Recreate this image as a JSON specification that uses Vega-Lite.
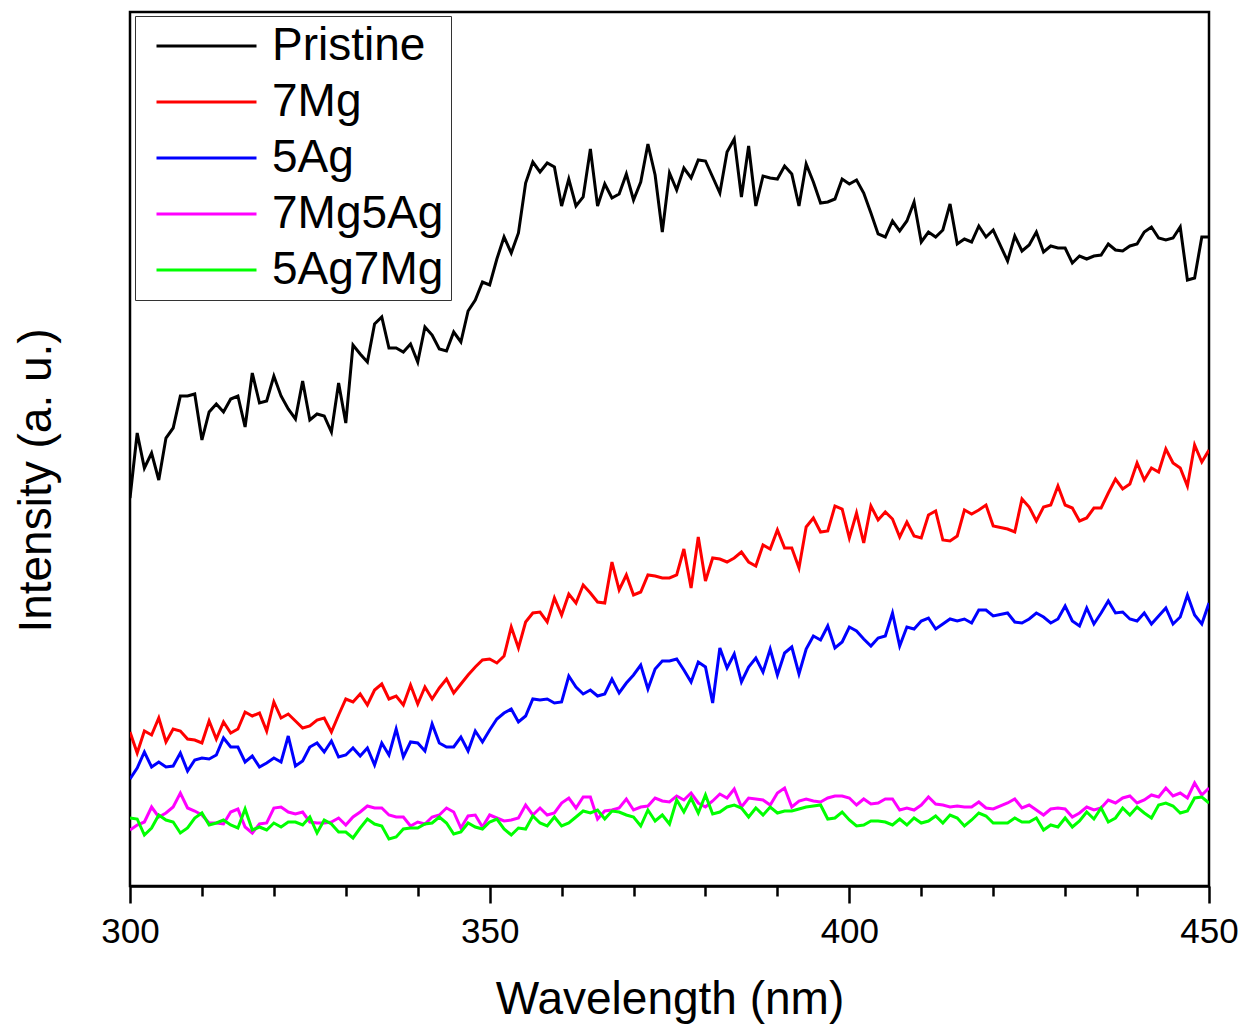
{
"$schema":"https://vega.github.io/schema/vega-lite/v6.json",
"width":1079,"height":874,
"autosize":"none",
"padding":{"left":130,"top":12,"right":33,"bottom":142},
"background":"white",
"config":{"font":"Liberation Sans","view":{"stroke":"black","strokeWidth":2.5}},
"data":{"values":[
{"w":300,"s":"Pristine","v":388},{"w":301,"s":"Pristine","v":453},{"w":302,"s":"Pristine","v":418},{"w":303,"s":"Pristine","v":433},{"w":304,"s":"Pristine","v":406},{"w":305,"s":"Pristine","v":448},{"w":306,"s":"Pristine","v":458},{"w":307,"s":"Pristine","v":490},{"w":308,"s":"Pristine","v":490},{"w":309,"s":"Pristine","v":492},{"w":310,"s":"Pristine","v":446},{"w":311,"s":"Pristine","v":474},{"w":312,"s":"Pristine","v":482},{"w":313,"s":"Pristine","v":474},{"w":314,"s":"Pristine","v":487},{"w":315,"s":"Pristine","v":490},{"w":316,"s":"Pristine","v":459},{"w":317,"s":"Pristine","v":513},{"w":318,"s":"Pristine","v":483},{"w":319,"s":"Pristine","v":485},{"w":320,"s":"Pristine","v":510},{"w":321,"s":"Pristine","v":490},{"w":322,"s":"Pristine","v":477},{"w":323,"s":"Pristine","v":467},{"w":324,"s":"Pristine","v":505},{"w":325,"s":"Pristine","v":466},{"w":326,"s":"Pristine","v":472},{"w":327,"s":"Pristine","v":470},{"w":328,"s":"Pristine","v":454},{"w":329,"s":"Pristine","v":503},{"w":330,"s":"Pristine","v":463},{"w":331,"s":"Pristine","v":541},{"w":332,"s":"Pristine","v":532},{"w":333,"s":"Pristine","v":524},{"w":334,"s":"Pristine","v":562},{"w":335,"s":"Pristine","v":569},{"w":336,"s":"Pristine","v":538},{"w":337,"s":"Pristine","v":538},{"w":338,"s":"Pristine","v":534},{"w":339,"s":"Pristine","v":542},{"w":340,"s":"Pristine","v":524},{"w":341,"s":"Pristine","v":559},{"w":342,"s":"Pristine","v":551},{"w":343,"s":"Pristine","v":537},{"w":344,"s":"Pristine","v":535},{"w":345,"s":"Pristine","v":554},{"w":346,"s":"Pristine","v":544},{"w":347,"s":"Pristine","v":575},{"w":348,"s":"Pristine","v":586},{"w":349,"s":"Pristine","v":604},{"w":350,"s":"Pristine","v":601},{"w":351,"s":"Pristine","v":627},{"w":352,"s":"Pristine","v":649},{"w":353,"s":"Pristine","v":633},{"w":354,"s":"Pristine","v":653},{"w":355,"s":"Pristine","v":703},{"w":356,"s":"Pristine","v":724},{"w":357,"s":"Pristine","v":714},{"w":358,"s":"Pristine","v":723},{"w":359,"s":"Pristine","v":719},{"w":360,"s":"Pristine","v":680},{"w":361,"s":"Pristine","v":707},{"w":362,"s":"Pristine","v":680},{"w":363,"s":"Pristine","v":689},{"w":364,"s":"Pristine","v":737},{"w":365,"s":"Pristine","v":680},{"w":366,"s":"Pristine","v":702},{"w":367,"s":"Pristine","v":688},{"w":368,"s":"Pristine","v":692},{"w":369,"s":"Pristine","v":712},{"w":370,"s":"Pristine","v":686},{"w":371,"s":"Pristine","v":704},{"w":372,"s":"Pristine","v":742},{"w":373,"s":"Pristine","v":711},{"w":374,"s":"Pristine","v":654},{"w":375,"s":"Pristine","v":713},{"w":376,"s":"Pristine","v":696},{"w":377,"s":"Pristine","v":718},{"w":378,"s":"Pristine","v":708},{"w":379,"s":"Pristine","v":726},{"w":380,"s":"Pristine","v":725},{"w":381,"s":"Pristine","v":709},{"w":382,"s":"Pristine","v":693},{"w":383,"s":"Pristine","v":734},{"w":384,"s":"Pristine","v":747},{"w":385,"s":"Pristine","v":689},{"w":386,"s":"Pristine","v":740},{"w":387,"s":"Pristine","v":680},{"w":388,"s":"Pristine","v":710},{"w":389,"s":"Pristine","v":708},{"w":390,"s":"Pristine","v":707},{"w":391,"s":"Pristine","v":720},{"w":392,"s":"Pristine","v":712},{"w":393,"s":"Pristine","v":680},{"w":394,"s":"Pristine","v":722},{"w":395,"s":"Pristine","v":704},{"w":396,"s":"Pristine","v":683},{"w":397,"s":"Pristine","v":684},{"w":398,"s":"Pristine","v":687},{"w":399,"s":"Pristine","v":707},{"w":400,"s":"Pristine","v":702},{"w":401,"s":"Pristine","v":706},{"w":402,"s":"Pristine","v":693},{"w":403,"s":"Pristine","v":673},{"w":404,"s":"Pristine","v":652},{"w":405,"s":"Pristine","v":649},{"w":406,"s":"Pristine","v":665},{"w":407,"s":"Pristine","v":655},{"w":408,"s":"Pristine","v":665},{"w":409,"s":"Pristine","v":684},{"w":410,"s":"Pristine","v":644},{"w":411,"s":"Pristine","v":654},{"w":412,"s":"Pristine","v":649},{"w":413,"s":"Pristine","v":656},{"w":414,"s":"Pristine","v":682},{"w":415,"s":"Pristine","v":642},{"w":416,"s":"Pristine","v":647},{"w":417,"s":"Pristine","v":644},{"w":418,"s":"Pristine","v":660},{"w":419,"s":"Pristine","v":649},{"w":420,"s":"Pristine","v":656},{"w":422,"s":"Pristine","v":625},{"w":423,"s":"Pristine","v":650},{"w":424,"s":"Pristine","v":635},{"w":425,"s":"Pristine","v":641},{"w":426,"s":"Pristine","v":654},{"w":427,"s":"Pristine","v":634},{"w":428,"s":"Pristine","v":640},{"w":429,"s":"Pristine","v":638},{"w":430,"s":"Pristine","v":638},{"w":431,"s":"Pristine","v":623},{"w":432,"s":"Pristine","v":630},{"w":433,"s":"Pristine","v":627},{"w":434,"s":"Pristine","v":630},{"w":435,"s":"Pristine","v":631},{"w":436,"s":"Pristine","v":642},{"w":437,"s":"Pristine","v":636},{"w":438,"s":"Pristine","v":635},{"w":439,"s":"Pristine","v":640},{"w":440,"s":"Pristine","v":642},{"w":441,"s":"Pristine","v":654},{"w":442,"s":"Pristine","v":659},{"w":443,"s":"Pristine","v":648},{"w":444,"s":"Pristine","v":646},{"w":445,"s":"Pristine","v":648},{"w":446,"s":"Pristine","v":659},{"w":447,"s":"Pristine","v":606},{"w":448,"s":"Pristine","v":608},{"w":449,"s":"Pristine","v":649},{"w":450,"s":"Pristine","v":649},
{"w":300,"s":"7Mg","v":154},{"w":301,"s":"7Mg","v":133},{"w":302,"s":"7Mg","v":155},{"w":303,"s":"7Mg","v":151},{"w":304,"s":"7Mg","v":168},{"w":305,"s":"7Mg","v":144},{"w":306,"s":"7Mg","v":157},{"w":307,"s":"7Mg","v":155},{"w":308,"s":"7Mg","v":147},{"w":309,"s":"7Mg","v":146},{"w":310,"s":"7Mg","v":143},{"w":311,"s":"7Mg","v":165},{"w":312,"s":"7Mg","v":147},{"w":313,"s":"7Mg","v":164},{"w":314,"s":"7Mg","v":153},{"w":315,"s":"7Mg","v":157},{"w":316,"s":"7Mg","v":174},{"w":317,"s":"7Mg","v":170},{"w":318,"s":"7Mg","v":173},{"w":319,"s":"7Mg","v":155},{"w":320,"s":"7Mg","v":184},{"w":321,"s":"7Mg","v":168},{"w":322,"s":"7Mg","v":172},{"w":323,"s":"7Mg","v":165},{"w":324,"s":"7Mg","v":158},{"w":325,"s":"7Mg","v":160},{"w":326,"s":"7Mg","v":166},{"w":327,"s":"7Mg","v":168},{"w":328,"s":"7Mg","v":154},{"w":329,"s":"7Mg","v":171},{"w":330,"s":"7Mg","v":187},{"w":331,"s":"7Mg","v":184},{"w":332,"s":"7Mg","v":192},{"w":333,"s":"7Mg","v":181},{"w":334,"s":"7Mg","v":196},{"w":335,"s":"7Mg","v":202},{"w":336,"s":"7Mg","v":187},{"w":337,"s":"7Mg","v":190},{"w":338,"s":"7Mg","v":181},{"w":339,"s":"7Mg","v":201},{"w":340,"s":"7Mg","v":182},{"w":341,"s":"7Mg","v":199},{"w":342,"s":"7Mg","v":187},{"w":343,"s":"7Mg","v":198},{"w":344,"s":"7Mg","v":207},{"w":345,"s":"7Mg","v":193},{"w":346,"s":"7Mg","v":202},{"w":347,"s":"7Mg","v":211},{"w":348,"s":"7Mg","v":219},{"w":349,"s":"7Mg","v":226},{"w":350,"s":"7Mg","v":227},{"w":351,"s":"7Mg","v":223},{"w":352,"s":"7Mg","v":230},{"w":353,"s":"7Mg","v":259},{"w":354,"s":"7Mg","v":238},{"w":355,"s":"7Mg","v":264},{"w":356,"s":"7Mg","v":273},{"w":357,"s":"7Mg","v":274},{"w":358,"s":"7Mg","v":264},{"w":359,"s":"7Mg","v":288},{"w":360,"s":"7Mg","v":271},{"w":361,"s":"7Mg","v":292},{"w":362,"s":"7Mg","v":283},{"w":363,"s":"7Mg","v":301},{"w":364,"s":"7Mg","v":293},{"w":365,"s":"7Mg","v":284},{"w":366,"s":"7Mg","v":283},{"w":367,"s":"7Mg","v":324},{"w":368,"s":"7Mg","v":296},{"w":369,"s":"7Mg","v":311},{"w":370,"s":"7Mg","v":291},{"w":371,"s":"7Mg","v":294},{"w":372,"s":"7Mg","v":311},{"w":373,"s":"7Mg","v":310},{"w":374,"s":"7Mg","v":308},{"w":375,"s":"7Mg","v":308},{"w":376,"s":"7Mg","v":311},{"w":377,"s":"7Mg","v":337},{"w":378,"s":"7Mg","v":298},{"w":379,"s":"7Mg","v":349},{"w":380,"s":"7Mg","v":305},{"w":381,"s":"7Mg","v":328},{"w":382,"s":"7Mg","v":327},{"w":383,"s":"7Mg","v":324},{"w":384,"s":"7Mg","v":328},{"w":385,"s":"7Mg","v":334},{"w":386,"s":"7Mg","v":324},{"w":387,"s":"7Mg","v":320},{"w":388,"s":"7Mg","v":341},{"w":389,"s":"7Mg","v":337},{"w":390,"s":"7Mg","v":356},{"w":391,"s":"7Mg","v":338},{"w":392,"s":"7Mg","v":338},{"w":393,"s":"7Mg","v":318},{"w":394,"s":"7Mg","v":359},{"w":395,"s":"7Mg","v":368},{"w":396,"s":"7Mg","v":354},{"w":397,"s":"7Mg","v":355},{"w":398,"s":"7Mg","v":380},{"w":399,"s":"7Mg","v":377},{"w":400,"s":"7Mg","v":348},{"w":401,"s":"7Mg","v":373},{"w":402,"s":"7Mg","v":343},{"w":403,"s":"7Mg","v":380},{"w":404,"s":"7Mg","v":366},{"w":405,"s":"7Mg","v":374},{"w":406,"s":"7Mg","v":367},{"w":407,"s":"7Mg","v":349},{"w":408,"s":"7Mg","v":364},{"w":409,"s":"7Mg","v":350},{"w":410,"s":"7Mg","v":348},{"w":411,"s":"7Mg","v":371},{"w":412,"s":"7Mg","v":375},{"w":413,"s":"7Mg","v":346},{"w":414,"s":"7Mg","v":345},{"w":415,"s":"7Mg","v":350},{"w":416,"s":"7Mg","v":376},{"w":417,"s":"7Mg","v":372},{"w":418,"s":"7Mg","v":376},{"w":419,"s":"7Mg","v":381},{"w":420,"s":"7Mg","v":360},{"w":422,"s":"7Mg","v":357},{"w":423,"s":"7Mg","v":354},{"w":424,"s":"7Mg","v":387},{"w":425,"s":"7Mg","v":379},{"w":426,"s":"7Mg","v":365},{"w":427,"s":"7Mg","v":379},{"w":428,"s":"7Mg","v":381},{"w":429,"s":"7Mg","v":400},{"w":430,"s":"7Mg","v":381},{"w":431,"s":"7Mg","v":378},{"w":432,"s":"7Mg","v":365},{"w":433,"s":"7Mg","v":368},{"w":434,"s":"7Mg","v":378},{"w":435,"s":"7Mg","v":378},{"w":436,"s":"7Mg","v":393},{"w":437,"s":"7Mg","v":407},{"w":438,"s":"7Mg","v":397},{"w":439,"s":"7Mg","v":402},{"w":440,"s":"7Mg","v":423},{"w":441,"s":"7Mg","v":406},{"w":442,"s":"7Mg","v":418},{"w":443,"s":"7Mg","v":414},{"w":444,"s":"7Mg","v":437},{"w":445,"s":"7Mg","v":423},{"w":446,"s":"7Mg","v":418},{"w":447,"s":"7Mg","v":400},{"w":448,"s":"7Mg","v":441},{"w":449,"s":"7Mg","v":424},{"w":450,"s":"7Mg","v":436},
{"w":300,"s":"5Ag","v":107},{"w":301,"s":"5Ag","v":118},{"w":302,"s":"5Ag","v":134},{"w":303,"s":"5Ag","v":119},{"w":304,"s":"5Ag","v":124},{"w":305,"s":"5Ag","v":119},{"w":306,"s":"5Ag","v":120},{"w":307,"s":"5Ag","v":133},{"w":308,"s":"5Ag","v":115},{"w":309,"s":"5Ag","v":126},{"w":310,"s":"5Ag","v":128},{"w":311,"s":"5Ag","v":127},{"w":312,"s":"5Ag","v":131},{"w":313,"s":"5Ag","v":148},{"w":314,"s":"5Ag","v":139},{"w":315,"s":"5Ag","v":139},{"w":316,"s":"5Ag","v":124},{"w":317,"s":"5Ag","v":130},{"w":318,"s":"5Ag","v":119},{"w":319,"s":"5Ag","v":123},{"w":320,"s":"5Ag","v":128},{"w":321,"s":"5Ag","v":124},{"w":322,"s":"5Ag","v":150},{"w":323,"s":"5Ag","v":120},{"w":324,"s":"5Ag","v":125},{"w":325,"s":"5Ag","v":139},{"w":326,"s":"5Ag","v":143},{"w":327,"s":"5Ag","v":134},{"w":328,"s":"5Ag","v":145},{"w":329,"s":"5Ag","v":129},{"w":330,"s":"5Ag","v":131},{"w":331,"s":"5Ag","v":138},{"w":332,"s":"5Ag","v":130},{"w":333,"s":"5Ag","v":138},{"w":334,"s":"5Ag","v":121},{"w":335,"s":"5Ag","v":143},{"w":336,"s":"5Ag","v":131},{"w":337,"s":"5Ag","v":157},{"w":338,"s":"5Ag","v":129},{"w":339,"s":"5Ag","v":144},{"w":340,"s":"5Ag","v":143},{"w":341,"s":"5Ag","v":135},{"w":342,"s":"5Ag","v":162},{"w":343,"s":"5Ag","v":143},{"w":344,"s":"5Ag","v":139},{"w":345,"s":"5Ag","v":139},{"w":346,"s":"5Ag","v":149},{"w":347,"s":"5Ag","v":135},{"w":348,"s":"5Ag","v":155},{"w":349,"s":"5Ag","v":144},{"w":350,"s":"5Ag","v":156},{"w":351,"s":"5Ag","v":167},{"w":352,"s":"5Ag","v":173},{"w":353,"s":"5Ag","v":177},{"w":354,"s":"5Ag","v":164},{"w":355,"s":"5Ag","v":170},{"w":356,"s":"5Ag","v":187},{"w":357,"s":"5Ag","v":186},{"w":358,"s":"5Ag","v":187},{"w":359,"s":"5Ag","v":183},{"w":360,"s":"5Ag","v":184},{"w":361,"s":"5Ag","v":210},{"w":362,"s":"5Ag","v":199},{"w":363,"s":"5Ag","v":192},{"w":364,"s":"5Ag","v":196},{"w":365,"s":"5Ag","v":190},{"w":366,"s":"5Ag","v":192},{"w":367,"s":"5Ag","v":207},{"w":368,"s":"5Ag","v":193},{"w":369,"s":"5Ag","v":203},{"w":370,"s":"5Ag","v":211},{"w":371,"s":"5Ag","v":221},{"w":372,"s":"5Ag","v":197},{"w":373,"s":"5Ag","v":217},{"w":374,"s":"5Ag","v":225},{"w":375,"s":"5Ag","v":225},{"w":376,"s":"5Ag","v":227},{"w":377,"s":"5Ag","v":216},{"w":378,"s":"5Ag","v":204},{"w":379,"s":"5Ag","v":224},{"w":380,"s":"5Ag","v":219},{"w":381,"s":"5Ag","v":183},{"w":382,"s":"5Ag","v":238},{"w":383,"s":"5Ag","v":218},{"w":384,"s":"5Ag","v":232},{"w":385,"s":"5Ag","v":204},{"w":386,"s":"5Ag","v":219},{"w":387,"s":"5Ag","v":228},{"w":388,"s":"5Ag","v":214},{"w":389,"s":"5Ag","v":237},{"w":390,"s":"5Ag","v":211},{"w":391,"s":"5Ag","v":233},{"w":392,"s":"5Ag","v":239},{"w":393,"s":"5Ag","v":212},{"w":394,"s":"5Ag","v":237},{"w":395,"s":"5Ag","v":250},{"w":396,"s":"5Ag","v":246},{"w":397,"s":"5Ag","v":260},{"w":398,"s":"5Ag","v":238},{"w":399,"s":"5Ag","v":244},{"w":400,"s":"5Ag","v":259},{"w":401,"s":"5Ag","v":255},{"w":402,"s":"5Ag","v":247},{"w":403,"s":"5Ag","v":240},{"w":404,"s":"5Ag","v":248},{"w":405,"s":"5Ag","v":250},{"w":406,"s":"5Ag","v":273},{"w":407,"s":"5Ag","v":240},{"w":408,"s":"5Ag","v":259},{"w":409,"s":"5Ag","v":257},{"w":410,"s":"5Ag","v":265},{"w":411,"s":"5Ag","v":268},{"w":412,"s":"5Ag","v":257},{"w":413,"s":"5Ag","v":262},{"w":414,"s":"5Ag","v":267},{"w":415,"s":"5Ag","v":265},{"w":416,"s":"5Ag","v":267},{"w":417,"s":"5Ag","v":263},{"w":418,"s":"5Ag","v":276},{"w":419,"s":"5Ag","v":276},{"w":420,"s":"5Ag","v":270},{"w":422,"s":"5Ag","v":273},{"w":423,"s":"5Ag","v":264},{"w":424,"s":"5Ag","v":263},{"w":425,"s":"5Ag","v":267},{"w":426,"s":"5Ag","v":273},{"w":427,"s":"5Ag","v":269},{"w":428,"s":"5Ag","v":263},{"w":429,"s":"5Ag","v":267},{"w":430,"s":"5Ag","v":280},{"w":431,"s":"5Ag","v":265},{"w":432,"s":"5Ag","v":260},{"w":433,"s":"5Ag","v":278},{"w":434,"s":"5Ag","v":262},{"w":435,"s":"5Ag","v":273},{"w":436,"s":"5Ag","v":285},{"w":437,"s":"5Ag","v":273},{"w":438,"s":"5Ag","v":274},{"w":439,"s":"5Ag","v":267},{"w":440,"s":"5Ag","v":265},{"w":441,"s":"5Ag","v":273},{"w":442,"s":"5Ag","v":262},{"w":443,"s":"5Ag","v":270},{"w":444,"s":"5Ag","v":278},{"w":445,"s":"5Ag","v":262},{"w":446,"s":"5Ag","v":269},{"w":447,"s":"5Ag","v":291},{"w":448,"s":"5Ag","v":271},{"w":449,"s":"5Ag","v":262},{"w":450,"s":"5Ag","v":283},
{"w":300,"s":"7Mg5Ag","v":56},{"w":301,"s":"7Mg5Ag","v":61},{"w":302,"s":"7Mg5Ag","v":64},{"w":303,"s":"7Mg5Ag","v":79},{"w":304,"s":"7Mg5Ag","v":69},{"w":305,"s":"7Mg5Ag","v":73},{"w":306,"s":"7Mg5Ag","v":79},{"w":307,"s":"7Mg5Ag","v":93},{"w":308,"s":"7Mg5Ag","v":78},{"w":309,"s":"7Mg5Ag","v":75},{"w":310,"s":"7Mg5Ag","v":71},{"w":311,"s":"7Mg5Ag","v":63},{"w":312,"s":"7Mg5Ag","v":63},{"w":313,"s":"7Mg5Ag","v":62},{"w":314,"s":"7Mg5Ag","v":74},{"w":315,"s":"7Mg5Ag","v":77},{"w":316,"s":"7Mg5Ag","v":59},{"w":317,"s":"7Mg5Ag","v":53},{"w":318,"s":"7Mg5Ag","v":62},{"w":319,"s":"7Mg5Ag","v":63},{"w":320,"s":"7Mg5Ag","v":78},{"w":321,"s":"7Mg5Ag","v":79},{"w":322,"s":"7Mg5Ag","v":74},{"w":323,"s":"7Mg5Ag","v":72},{"w":324,"s":"7Mg5Ag","v":74},{"w":325,"s":"7Mg5Ag","v":64},{"w":326,"s":"7Mg5Ag","v":63},{"w":327,"s":"7Mg5Ag","v":63},{"w":328,"s":"7Mg5Ag","v":64},{"w":329,"s":"7Mg5Ag","v":68},{"w":330,"s":"7Mg5Ag","v":61},{"w":331,"s":"7Mg5Ag","v":69},{"w":332,"s":"7Mg5Ag","v":74},{"w":333,"s":"7Mg5Ag","v":80},{"w":334,"s":"7Mg5Ag","v":78},{"w":335,"s":"7Mg5Ag","v":78},{"w":336,"s":"7Mg5Ag","v":71},{"w":337,"s":"7Mg5Ag","v":69},{"w":338,"s":"7Mg5Ag","v":69},{"w":339,"s":"7Mg5Ag","v":60},{"w":340,"s":"7Mg5Ag","v":64},{"w":341,"s":"7Mg5Ag","v":62},{"w":342,"s":"7Mg5Ag","v":69},{"w":343,"s":"7Mg5Ag","v":71},{"w":344,"s":"7Mg5Ag","v":78},{"w":345,"s":"7Mg5Ag","v":74},{"w":346,"s":"7Mg5Ag","v":58},{"w":347,"s":"7Mg5Ag","v":70},{"w":348,"s":"7Mg5Ag","v":71},{"w":349,"s":"7Mg5Ag","v":59},{"w":350,"s":"7Mg5Ag","v":71},{"w":351,"s":"7Mg5Ag","v":68},{"w":352,"s":"7Mg5Ag","v":65},{"w":353,"s":"7Mg5Ag","v":66},{"w":354,"s":"7Mg5Ag","v":68},{"w":355,"s":"7Mg5Ag","v":81},{"w":356,"s":"7Mg5Ag","v":71},{"w":357,"s":"7Mg5Ag","v":78},{"w":358,"s":"7Mg5Ag","v":71},{"w":359,"s":"7Mg5Ag","v":73},{"w":360,"s":"7Mg5Ag","v":83},{"w":361,"s":"7Mg5Ag","v":88},{"w":362,"s":"7Mg5Ag","v":78},{"w":363,"s":"7Mg5Ag","v":89},{"w":364,"s":"7Mg5Ag","v":89},{"w":365,"s":"7Mg5Ag","v":67},{"w":366,"s":"7Mg5Ag","v":75},{"w":367,"s":"7Mg5Ag","v":76},{"w":368,"s":"7Mg5Ag","v":78},{"w":369,"s":"7Mg5Ag","v":87},{"w":370,"s":"7Mg5Ag","v":76},{"w":371,"s":"7Mg5Ag","v":79},{"w":372,"s":"7Mg5Ag","v":80},{"w":373,"s":"7Mg5Ag","v":88},{"w":374,"s":"7Mg5Ag","v":85},{"w":375,"s":"7Mg5Ag","v":84},{"w":376,"s":"7Mg5Ag","v":90},{"w":377,"s":"7Mg5Ag","v":86},{"w":378,"s":"7Mg5Ag","v":93},{"w":379,"s":"7Mg5Ag","v":83},{"w":380,"s":"7Mg5Ag","v":79},{"w":381,"s":"7Mg5Ag","v":85},{"w":382,"s":"7Mg5Ag","v":92},{"w":383,"s":"7Mg5Ag","v":88},{"w":384,"s":"7Mg5Ag","v":97},{"w":385,"s":"7Mg5Ag","v":79},{"w":386,"s":"7Mg5Ag","v":88},{"w":387,"s":"7Mg5Ag","v":87},{"w":388,"s":"7Mg5Ag","v":86},{"w":389,"s":"7Mg5Ag","v":81},{"w":390,"s":"7Mg5Ag","v":93},{"w":391,"s":"7Mg5Ag","v":98},{"w":392,"s":"7Mg5Ag","v":79},{"w":393,"s":"7Mg5Ag","v":85},{"w":394,"s":"7Mg5Ag","v":87},{"w":395,"s":"7Mg5Ag","v":85},{"w":396,"s":"7Mg5Ag","v":84},{"w":397,"s":"7Mg5Ag","v":88},{"w":398,"s":"7Mg5Ag","v":90},{"w":399,"s":"7Mg5Ag","v":90},{"w":400,"s":"7Mg5Ag","v":88},{"w":401,"s":"7Mg5Ag","v":81},{"w":402,"s":"7Mg5Ag","v":87},{"w":403,"s":"7Mg5Ag","v":82},{"w":404,"s":"7Mg5Ag","v":83},{"w":405,"s":"7Mg5Ag","v":87},{"w":406,"s":"7Mg5Ag","v":87},{"w":407,"s":"7Mg5Ag","v":76},{"w":408,"s":"7Mg5Ag","v":78},{"w":409,"s":"7Mg5Ag","v":76},{"w":410,"s":"7Mg5Ag","v":81},{"w":411,"s":"7Mg5Ag","v":89},{"w":412,"s":"7Mg5Ag","v":82},{"w":413,"s":"7Mg5Ag","v":81},{"w":414,"s":"7Mg5Ag","v":79},{"w":415,"s":"7Mg5Ag","v":80},{"w":416,"s":"7Mg5Ag","v":79},{"w":417,"s":"7Mg5Ag","v":79},{"w":418,"s":"7Mg5Ag","v":84},{"w":419,"s":"7Mg5Ag","v":78},{"w":420,"s":"7Mg5Ag","v":77},{"w":422,"s":"7Mg5Ag","v":83},{"w":423,"s":"7Mg5Ag","v":87},{"w":424,"s":"7Mg5Ag","v":78},{"w":425,"s":"7Mg5Ag","v":81},{"w":426,"s":"7Mg5Ag","v":76},{"w":427,"s":"7Mg5Ag","v":71},{"w":428,"s":"7Mg5Ag","v":77},{"w":429,"s":"7Mg5Ag","v":78},{"w":430,"s":"7Mg5Ag","v":77},{"w":431,"s":"7Mg5Ag","v":69},{"w":432,"s":"7Mg5Ag","v":73},{"w":433,"s":"7Mg5Ag","v":79},{"w":434,"s":"7Mg5Ag","v":76},{"w":435,"s":"7Mg5Ag","v":78},{"w":436,"s":"7Mg5Ag","v":86},{"w":437,"s":"7Mg5Ag","v":83},{"w":438,"s":"7Mg5Ag","v":88},{"w":439,"s":"7Mg5Ag","v":90},{"w":440,"s":"7Mg5Ag","v":83},{"w":441,"s":"7Mg5Ag","v":86},{"w":442,"s":"7Mg5Ag","v":91},{"w":443,"s":"7Mg5Ag","v":89},{"w":444,"s":"7Mg5Ag","v":98},{"w":445,"s":"7Mg5Ag","v":90},{"w":446,"s":"7Mg5Ag","v":93},{"w":447,"s":"7Mg5Ag","v":88},{"w":448,"s":"7Mg5Ag","v":103},{"w":449,"s":"7Mg5Ag","v":91},{"w":450,"s":"7Mg5Ag","v":98},
{"w":300,"s":"5Ag7Mg","v":68},{"w":301,"s":"5Ag7Mg","v":67},{"w":302,"s":"5Ag7Mg","v":51},{"w":303,"s":"5Ag7Mg","v":58},{"w":304,"s":"5Ag7Mg","v":71},{"w":305,"s":"5Ag7Mg","v":66},{"w":306,"s":"5Ag7Mg","v":64},{"w":307,"s":"5Ag7Mg","v":53},{"w":308,"s":"5Ag7Mg","v":58},{"w":309,"s":"5Ag7Mg","v":68},{"w":310,"s":"5Ag7Mg","v":73},{"w":311,"s":"5Ag7Mg","v":61},{"w":312,"s":"5Ag7Mg","v":63},{"w":313,"s":"5Ag7Mg","v":66},{"w":314,"s":"5Ag7Mg","v":61},{"w":315,"s":"5Ag7Mg","v":58},{"w":316,"s":"5Ag7Mg","v":77},{"w":317,"s":"5Ag7Mg","v":56},{"w":318,"s":"5Ag7Mg","v":59},{"w":319,"s":"5Ag7Mg","v":56},{"w":320,"s":"5Ag7Mg","v":63},{"w":321,"s":"5Ag7Mg","v":59},{"w":322,"s":"5Ag7Mg","v":64},{"w":323,"s":"5Ag7Mg","v":64},{"w":324,"s":"5Ag7Mg","v":61},{"w":325,"s":"5Ag7Mg","v":69},{"w":326,"s":"5Ag7Mg","v":53},{"w":327,"s":"5Ag7Mg","v":66},{"w":328,"s":"5Ag7Mg","v":62},{"w":329,"s":"5Ag7Mg","v":54},{"w":330,"s":"5Ag7Mg","v":54},{"w":331,"s":"5Ag7Mg","v":48},{"w":332,"s":"5Ag7Mg","v":58},{"w":333,"s":"5Ag7Mg","v":67},{"w":334,"s":"5Ag7Mg","v":62},{"w":335,"s":"5Ag7Mg","v":60},{"w":336,"s":"5Ag7Mg","v":47},{"w":337,"s":"5Ag7Mg","v":49},{"w":338,"s":"5Ag7Mg","v":57},{"w":339,"s":"5Ag7Mg","v":58},{"w":340,"s":"5Ag7Mg","v":58},{"w":341,"s":"5Ag7Mg","v":62},{"w":342,"s":"5Ag7Mg","v":63},{"w":343,"s":"5Ag7Mg","v":69},{"w":344,"s":"5Ag7Mg","v":63},{"w":345,"s":"5Ag7Mg","v":52},{"w":346,"s":"5Ag7Mg","v":54},{"w":347,"s":"5Ag7Mg","v":63},{"w":348,"s":"5Ag7Mg","v":59},{"w":349,"s":"5Ag7Mg","v":57},{"w":350,"s":"5Ag7Mg","v":64},{"w":351,"s":"5Ag7Mg","v":67},{"w":352,"s":"5Ag7Mg","v":57},{"w":353,"s":"5Ag7Mg","v":51},{"w":354,"s":"5Ag7Mg","v":58},{"w":355,"s":"5Ag7Mg","v":57},{"w":356,"s":"5Ag7Mg","v":70},{"w":357,"s":"5Ag7Mg","v":63},{"w":358,"s":"5Ag7Mg","v":60},{"w":359,"s":"5Ag7Mg","v":69},{"w":360,"s":"5Ag7Mg","v":60},{"w":361,"s":"5Ag7Mg","v":63},{"w":362,"s":"5Ag7Mg","v":69},{"w":363,"s":"5Ag7Mg","v":75},{"w":364,"s":"5Ag7Mg","v":73},{"w":365,"s":"5Ag7Mg","v":76},{"w":366,"s":"5Ag7Mg","v":67},{"w":367,"s":"5Ag7Mg","v":75},{"w":368,"s":"5Ag7Mg","v":74},{"w":369,"s":"5Ag7Mg","v":71},{"w":370,"s":"5Ag7Mg","v":69},{"w":371,"s":"5Ag7Mg","v":60},{"w":372,"s":"5Ag7Mg","v":76},{"w":373,"s":"5Ag7Mg","v":65},{"w":374,"s":"5Ag7Mg","v":71},{"w":375,"s":"5Ag7Mg","v":62},{"w":376,"s":"5Ag7Mg","v":86},{"w":377,"s":"5Ag7Mg","v":74},{"w":378,"s":"5Ag7Mg","v":88},{"w":379,"s":"5Ag7Mg","v":73},{"w":380,"s":"5Ag7Mg","v":91},{"w":381,"s":"5Ag7Mg","v":72},{"w":382,"s":"5Ag7Mg","v":74},{"w":383,"s":"5Ag7Mg","v":79},{"w":384,"s":"5Ag7Mg","v":81},{"w":385,"s":"5Ag7Mg","v":78},{"w":386,"s":"5Ag7Mg","v":69},{"w":387,"s":"5Ag7Mg","v":78},{"w":388,"s":"5Ag7Mg","v":71},{"w":389,"s":"5Ag7Mg","v":79},{"w":390,"s":"5Ag7Mg","v":73},{"w":391,"s":"5Ag7Mg","v":75},{"w":392,"s":"5Ag7Mg","v":75},{"w":393,"s":"5Ag7Mg","v":77},{"w":394,"s":"5Ag7Mg","v":79},{"w":395,"s":"5Ag7Mg","v":80},{"w":396,"s":"5Ag7Mg","v":81},{"w":397,"s":"5Ag7Mg","v":67},{"w":398,"s":"5Ag7Mg","v":68},{"w":399,"s":"5Ag7Mg","v":74},{"w":400,"s":"5Ag7Mg","v":66},{"w":401,"s":"5Ag7Mg","v":60},{"w":402,"s":"5Ag7Mg","v":61},{"w":403,"s":"5Ag7Mg","v":65},{"w":404,"s":"5Ag7Mg","v":65},{"w":405,"s":"5Ag7Mg","v":64},{"w":406,"s":"5Ag7Mg","v":61},{"w":407,"s":"5Ag7Mg","v":67},{"w":408,"s":"5Ag7Mg","v":61},{"w":409,"s":"5Ag7Mg","v":68},{"w":410,"s":"5Ag7Mg","v":63},{"w":411,"s":"5Ag7Mg","v":65},{"w":412,"s":"5Ag7Mg","v":70},{"w":413,"s":"5Ag7Mg","v":63},{"w":414,"s":"5Ag7Mg","v":71},{"w":415,"s":"5Ag7Mg","v":68},{"w":416,"s":"5Ag7Mg","v":60},{"w":417,"s":"5Ag7Mg","v":66},{"w":418,"s":"5Ag7Mg","v":73},{"w":419,"s":"5Ag7Mg","v":70},{"w":420,"s":"5Ag7Mg","v":63},{"w":422,"s":"5Ag7Mg","v":63},{"w":423,"s":"5Ag7Mg","v":68},{"w":424,"s":"5Ag7Mg","v":64},{"w":425,"s":"5Ag7Mg","v":64},{"w":426,"s":"5Ag7Mg","v":68},{"w":427,"s":"5Ag7Mg","v":56},{"w":428,"s":"5Ag7Mg","v":61},{"w":429,"s":"5Ag7Mg","v":59},{"w":430,"s":"5Ag7Mg","v":68},{"w":431,"s":"5Ag7Mg","v":59},{"w":432,"s":"5Ag7Mg","v":65},{"w":433,"s":"5Ag7Mg","v":74},{"w":434,"s":"5Ag7Mg","v":67},{"w":435,"s":"5Ag7Mg","v":78},{"w":436,"s":"5Ag7Mg","v":64},{"w":437,"s":"5Ag7Mg","v":68},{"w":438,"s":"5Ag7Mg","v":78},{"w":439,"s":"5Ag7Mg","v":71},{"w":440,"s":"5Ag7Mg","v":79},{"w":441,"s":"5Ag7Mg","v":73},{"w":442,"s":"5Ag7Mg","v":68},{"w":443,"s":"5Ag7Mg","v":81},{"w":444,"s":"5Ag7Mg","v":83},{"w":445,"s":"5Ag7Mg","v":80},{"w":446,"s":"5Ag7Mg","v":73},{"w":447,"s":"5Ag7Mg","v":75},{"w":448,"s":"5Ag7Mg","v":88},{"w":449,"s":"5Ag7Mg","v":89},{"w":450,"s":"5Ag7Mg","v":83}
]},
"mark":{"type":"line","strokeWidth":3,"clip":true},
"encoding":{
"x":{"field":"w","type":"quantitative","scale":{"domain":[300,450],"nice":false,"zero":false},
"axis":{"title":"Wavelength (nm)","values":[300,310,320,330,340,350,360,370,380,390,400,410,420,430,440,450],
"labelExpr":"datum.value % 50 === 0 ? datum.label : ''","grid":false,
"domainColor":"black","domainWidth":2.5,"tickColor":"black","tickWidth":2.5,
"tickSize":{"condition":{"test":"datum.value % 50 === 0","value":17},"value":10},
"labelFontSize":35,"labelColor":"black","labelPadding":11,"labelFlush":false,"labelOverlap":false,
"titleFontSize":46,"titleFontWeight":"normal","titleColor":"black","titlePadding":28}},
"y":{"field":"v","type":"quantitative","scale":{"domain":[0,874],"nice":false},
"axis":{"title":"Intensity (a. u.)","labels":false,"ticks":false,"domain":false,"grid":false,
"titleFontSize":46,"titleFontWeight":"normal","titleColor":"black","titlePadding":70,"titleY":468}},
"color":{"field":"s","type":"nominal",
"scale":{"domain":["Pristine","7Mg","5Ag","7Mg5Ag","5Ag7Mg"],"range":["#000000","#ff0000","#0000ff","#ff00ff","#00ff00"]},
"legend":{"title":null,"orient":"none","legendX":5,"legendY":4,
"symbolType":"stroke","symbolSize":10000,"symbolStrokeWidth":3,"symbolOffset":13,
"clipHeight":46,"rowPadding":10,"padding":7,"labelOffset":14,
"labelFontSize":46,"labelColor":"black","labelLimit":400,
"strokeColor":"#333333","fillColor":"white"}}
}
}
